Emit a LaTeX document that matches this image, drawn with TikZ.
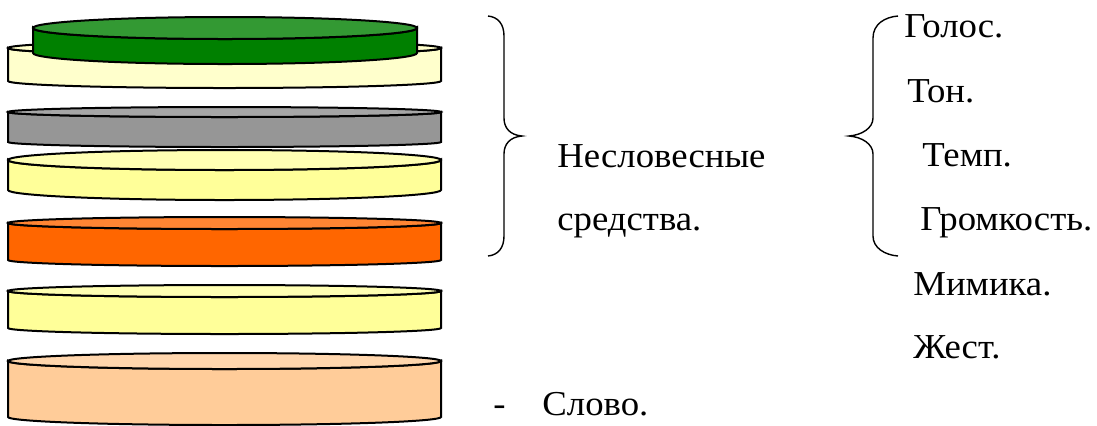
\documentclass[tikz,border=0pt]{standalone}
\usepackage{fontspec}
\setmainfont{Liberation Serif}[FakeStretch=1.05]
\usepackage{tikz}
\tikzset{
    disk/.style={draw=black, line width=1pt},
    brace/.style={draw=black, line width=0.7pt},
    word/.style={inner sep=0pt, anchor=base west, font=\rmfamily\fontsize{17.5}{21}\selectfont}
}
% #1 left, #2 right, #3 top, #4 bottom, #5 half height of the rim, #6 side, #7 lid
\newcommand{\layer}[7]{
    \draw
        [disk, fill=#6]
        (#1,-#3) -- (#1,-#4)
        arc[start angle=180, end angle=360, x radius={(#2-#1)/2}, y radius=#5]
        -- (#2,-#3)
        arc[start angle=0, end angle=-180, x radius={(#2-#1)/2}, y radius=#5]
        -- cycle
    ;
    \draw
        [disk, fill=#7]
        ({(#1+#2)/2},-#3) ellipse [x radius={(#2-#1)/2}, y radius=#5]
    ;
}
\definecolor{paleyellow}{HTML}{FFFFCC}
\definecolor{leafside}{HTML}{008000}
\definecolor{leaftop}{HTML}{339933}
\definecolor{greyside}{HTML}{969696}
\definecolor{greytop}{HTML}{A6A6A6}
\definecolor{lemonside}{HTML}{FFFF99}
\definecolor{lemontop}{HTML}{FFFFB3}
\definecolor{orangeside}{HTML}{FF6600}
\definecolor{orangetop}{HTML}{FF8533}
\definecolor{peachside}{HTML}{FFCC99}
\definecolor{peachtop}{HTML}{FFD6AD}

\begin{document}
\begin{tikzpicture}[x=0.5pt, y=0.5pt]
    \useasboundingbox (0,0) rectangle (1097,-425);

    \layer{8}{441}{48}{81}{7}{paleyellow}{paleyellow}
    \layer{33}{417}{28}{53}{11}{leafside}{leaftop}
    \layer{8}{441}{112}{142}{5}{greyside}{greytop}
    \layer{8}{441}{160}{190}{10}{lemonside}{lemontop}
    \layer{8}{441}{223}{260}{6}{orangeside}{orangetop}
    \layer{8}{441}{291}{328}{6}{lemonside}{lemontop}
    \layer{8}{441}{361}{417}{8}{peachside}{peachtop}

    \draw
        node [word] (nonverbal) at (557,-167) {Несловесные}
        node [word] (means) at (557,-230) {средства.}
        node [word] (voice) at (904,-37) {Голос.}
        node [word] (tone) at (907,-102) {Тон.}
        node [word] (tempo) at (922,-166) {Темп.}
        node [word] (loudness) at (920,-230) {Громкость.}
        node [word] (mimicry) at (913,-295) {Мимика.}
        node [word] (gesture) at (913,-358) {Жест.}
        node [word] (dash) at (493,-415) {-}
        node [word] (word) at (542,-415) {Слово.}
    ;
    \draw
        [brace]
        (488,-16) .. controls (498,-17) and (504,-24) .. (504,-36)
        -- (504,-118) .. controls (504,-128) and (510,-135) .. (522,-136)
        .. controls (510,-137) and (504,-144) .. (504,-154)
        -- (504,-236) .. controls (504,-248) and (498,-255) .. (488,-256)
    ;
    \draw
        [brace]
        (898,-16) .. controls (885,-17) and (873,-24) .. (873,-38)
        -- (873,-118) .. controls (873,-128) and (862,-135) .. (849,-136)
        .. controls (862,-137) and (873,-144) .. (873,-154)
        -- (873,-236) .. controls (873,-248) and (885,-255) .. (898,-256)
    ;
\end{tikzpicture}
\end{document}
